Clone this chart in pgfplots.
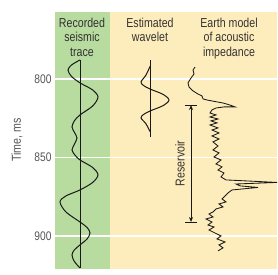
\documentclass[border=0pt]{standalone}
\usepackage{fontspec}
\setmainfont{Liberation Sans}[FakeStretch=0.82]
\usepackage{pgfplots}
\pgfplotsset{compat=1.18}
\usetikzlibrary{arrows.meta}
\definecolor{bggreen}{RGB}{184,219,160}
\definecolor{bgyellow}{RGB}{254,237,188}
\definecolor{txt}{RGB}{85,85,85}
\definecolor{hdrc}{RGB}{50,50,50}
\definecolor{ink}{RGB}{25,25,25}
\newcommand\hdr{\fontsize{13}{14.5}\selectfont}
\begin{document}
\begin{tikzpicture}
\begin{axis}[
  set layers,
  scale only axis, width=222bp, height=257bp,
  xmin=55, xmax=277, ymin=757.3, ymax=921, y dir=reverse,
  axis line style={draw=none}, tick style={draw=none},
  xtick=\empty, ytick={800,850,900},
  ymajorgrids, major grid style={white, line width=1.6bp},
  yticklabel style={font=\fontsize{12.5}{13}\selectfont, text=txt},
  /pgf/number format/assume math mode=true,
  clip=false,
]
\begin{pgfonlayer}{axis background}
\fill[bgyellow] (axis cs:109.5,757.3) rectangle (axis cs:277,921);
\fill[bggreen] (axis cs:55,757.3) rectangle (axis cs:109.5,921);
\end{pgfonlayer}

% recorded seismic trace
\addplot[ink, line width=0.9bp, no marks] coordinates {(80,787.9) (80,920.4)};
\addplot[ink, line width=1bp, no marks, smooth] coordinates {
(80,787.9) (71.5,791.1) (68,794.3) (71.5,798.4) (80,802.5)
(92.7,807.0) (98,811.5) (92.7,817.2) (80,822.9)
(74.3,826.7) (72,830.6) (74.5,834.1) (77,837.6) (74.5,841.4) (72,845.2) (75,848.5) (80,851.6)
(92.7,856.4) (98,861.1) (92.7,865.9) (80,870.7)
(65.9,874.5) (60,878.3) (65.9,884.7) (80,891.1)
(87.1,894.6) (90,898.1) (87.1,901.9) (80,905.7)
(74.3,908.9) (72,912.1) (74.3,916.2) (80,920.4)};

% estimated wavelet
\addplot[ink, line width=0.9bp, no marks] coordinates {(150,787.9) (150,836.9)};
\addplot[ink, line width=1bp, no marks, smooth] coordinates {
(150,792.0) (146,797.5) (141,801.9) (143.6,804.2) (150,806.4)
(163.4,809.9) (169,813.4) (163.4,816.9) (150,820.4)
(143.6,822.6) (141,824.8) (146,828.6) (150,833.5)};

% earth model of acoustic impedance
\addplot[ink, line width=0.85bp, no marks] coordinates {
(195,792.4) (193,794.3) (194,796.8) (191,799.4) (188,802.5) (189,805.1) (193,807.6)
(198,809.6) (202,810.8) (203,812.7) (207,813.4) (212,814.0) (217,814.6) (223,815.3)
(230,816.6) (235,817.8) (224,817.8) (216,818.5) (212,819.7) (210,821.7)
(216,822.9) (210,824.2) (218,825.5) (211,826.7) (217,828.0) (210,829.3) (218,831.2)
(212,832.5) (219,834.4) (212,836.3) (219,838.2) (213,840.1) (218,842.7) (213,845.2)
(219,847.1) (214,849.7) (221,851.6) (216,854.1) (222,856.0) (218,858.0) (224,859.9)
(221,862.4) (226,864.3) (277,865.9) (236,866.9) (240,868.1) (258,869.1) (232,870.7)
(228,872.6) (225,874.5) (222,876.4) (226,878.3) (219,879.6) (223,881.5) (216,882.8)
(213,884.7) (209,886.0) (213,887.9) (206,889.2) (212,891.1) (208,893.0) (214,894.3)
(209,896.2) (215,898.1) (221,900.0) (217,901.9) (225,903.8) (219,905.7) (223,907.6)
(218,909.5)};

% reservoir arrow
\draw[ink, line width=0.8bp] (axis cs:185,816.6) -- (axis cs:197,816.6);
\draw[ink, line width=0.8bp] (axis cs:185,891.1) -- (axis cs:197,891.1);
\draw[ink, line width=0.8bp, {Stealth[length=5bp,width=4bp]}-{Stealth[length=5bp,width=4bp]}]
  (axis cs:191,816.6) -- (axis cs:191,891.1);
\node[rotate=90, font=\hdr, text=hdrc, inner sep=0] at (axis cs:180,853.8) {Reservoir};

% headers
\node[anchor=north, align=center, font=\hdr, text=hdrc, inner sep=0] at (axis cs:82,761.1) {Recorded\\seismic\\trace};
\node[anchor=north, align=center, font=\hdr, text=hdrc, inner sep=0] at (axis cs:150,761.1) {Estimated\\wavelet};
\node[anchor=north, align=center, font=\hdr, text=hdrc, inner sep=0] at (axis cs:229,761.1) {Earth model\\of acoustic\\impedance};

% y label
\node[rotate=90, font=\hdr, text=txt, inner sep=0] at (axis cs:17,838.9) {Time, ms};

\coordinate (bbsw) at (axis cs:0,924.8);
\coordinate (bbne) at (axis cs:278,749.7);
\end{axis}
\pgfresetboundingbox
\path[use as bounding box] (bbsw) rectangle (bbne);
\end{tikzpicture}
\end{document}
